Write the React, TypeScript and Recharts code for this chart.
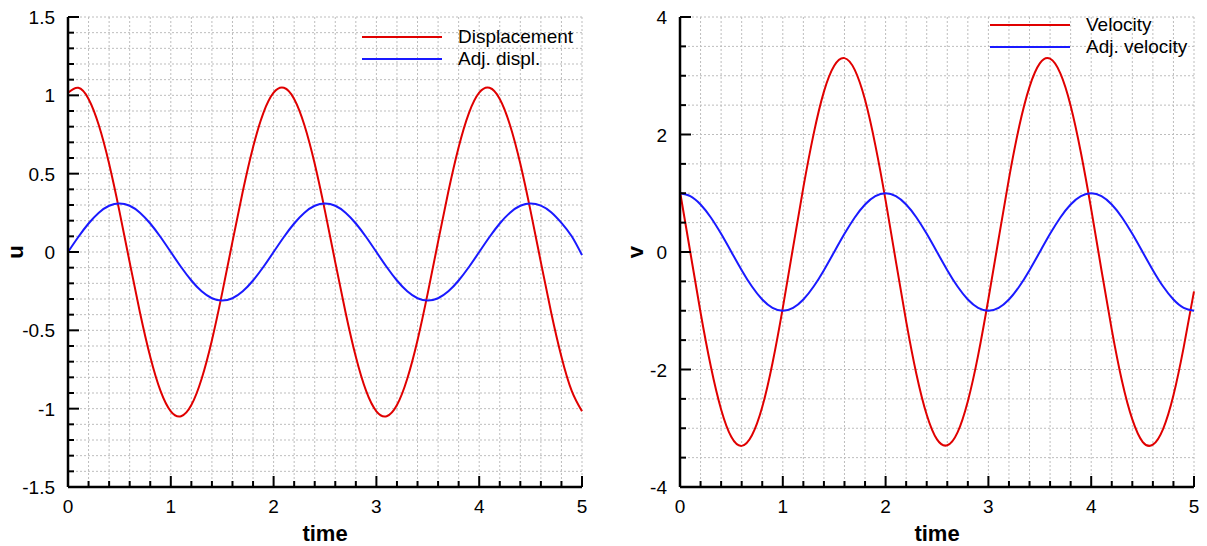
import React from "react";
import {
  LineChart,
  Line,
  XAxis,
  YAxis,
  CartesianGrid,
} from "recharts";

const time = [
  0, 0.1, 0.2, 0.3, 0.4, 0.5, 0.6, 0.7, 0.8, 0.9,
  1, 1.1, 1.2, 1.3, 1.4, 1.5, 1.6, 1.7, 1.8, 1.9,
  2, 2.1, 2.2, 2.3, 2.4, 2.5, 2.6, 2.7, 2.8, 2.9,
  3, 3.1, 3.2, 3.3, 3.4, 3.5, 3.6, 3.7, 3.8, 3.9,
  4, 4.1, 4.2, 4.3, 4.4, 4.5, 4.6, 4.7, 4.8, 4.9,
  5,
];

const displacement = [
  1.017, 1.048, 0.977, 0.809, 0.563, 0.261, -0.066, -0.386, -0.669, -0.887,
  -1.017, -1.048, -0.977, -0.809, -0.563, -0.261, 0.066, 0.386, 0.669, 0.887,
  1.017, 1.048, 0.977, 0.809, 0.563, 0.261, -0.066, -0.386, -0.669, -0.887,
  -1.017, -1.048, -0.977, -0.809, -0.563, -0.261, 0.066, 0.386, 0.669, 0.887,
  1.017, 1.048, 0.977, 0.809, 0.563, 0.261, -0.066, -0.386, -0.669, -0.887,
  -1.017,
];

const adjDispl = [
  0, 0.096, 0.182, 0.251, 0.295, 0.31, 0.295, 0.251, 0.182, 0.096,
  0, -0.096, -0.182, -0.251, -0.295, -0.31, -0.295, -0.251, -0.182, -0.096,
  0, 0.096, 0.182, 0.251, 0.295, 0.31, 0.295, 0.251, 0.182, 0.096,
  0, -0.096, -0.182, -0.251, -0.295, -0.31, -0.295, -0.251, -0.182, -0.096,
  0, 0.096, 0.182, 0.251, 0.295, 0.31, 0.296, 0.254, 0.186, 0.1,
  -0.02,
];

const velocity = [
  1.03, 0, -1.03, -1.95, -2.68, -3.15, -3.3, -3.12, -2.64, -1.89,
  -0.95, 0.08, 1.1, 2.01, 2.73, 3.17, 3.3, 3.1, 2.59, 1.82,
  0.88, -0.16, -1.18, -2.08, -2.77, -3.19, -3.29, -3.07, -2.54, -1.76,
  -0.8, 0.23, 1.25, 2.14, 2.81, 3.21, 3.29, 3.04, 2.49, 1.69,
  0.73, -0.31, -1.32, -2.2, -2.85, -3.23, -3.28, -3.01, -2.44, -1.62,
  -0.67,
];

const adjVelocity = [
  1, 0.951, 0.809, 0.588, 0.309, 0, -0.309, -0.588, -0.809, -0.951,
  -1, -0.951, -0.809, -0.588, -0.309, 0, 0.309, 0.588, 0.809, 0.951,
  1, 0.951, 0.809, 0.588, 0.309, 0, -0.309, -0.588, -0.809, -0.951,
  -1, -0.951, -0.809, -0.588, -0.309, 0, 0.309, 0.588, 0.809, 0.951,
  1, 0.951, 0.809, 0.588, 0.309, 0, -0.309, -0.588, -0.809, -0.951,
  -1,
];

// labelled (long) ticks
const timeMajor = [0, 1, 2, 3, 4, 5];
const uMajor = [-1.5, -1, -0.5, 0, 0.5, 1, 1.5];
const vMajor = [-4, -2, 0, 2, 4];

// unlabelled minor ticks
const steps = (from: number, to: number, step: number) => {
  const out: number[] = [];
  const n = Math.round((to - from) / step);
  for (let i = 0; i <= n; i++) out.push(Math.round((from + i * step) * 1000) / 1000);
  return out;
};
const timeTicks = steps(0, 5, 0.2);
const uTicks = steps(-1.5, 1.5, 0.1);
const vTicks = steps(-4, 4, 0.5);

const uData = time.map((t, i) => ({ t, d: displacement[i], a: adjDispl[i] }));
const vData = time.map((t, i) => ({ t, d: velocity[i], a: adjVelocity[i] }));

const RED = "#e00000";
const BLUE = "#1a1aff";
const FONT = "'Liberation Sans', Arial, sans-serif";

const isMajor = (v: number, majors: number[]) =>
  majors.some((m) => Math.abs(m - v) < 1e-6);

const makeXTick = (majors: number[]) => (props: any) => {
  const { x, y, payload } = props;
  const major = isMajor(payload.value, majors);
  return (
    <g>
      <line x1={x} y1={y} x2={x} y2={y - (major ? 11 : 6)} stroke="#000" strokeWidth={2} />
      {major && (
        <text x={x} y={y + 26} textAnchor="middle" fontSize={19} fill="#000" fontFamily={FONT}>
          {payload.value}
        </text>
      )}
    </g>
  );
};

const makeYTick = (majors: number[]) => (props: any) => {
  const { x, y, payload } = props;
  const major = isMajor(payload.value, majors);
  return (
    <g>
      <line x1={x} y1={y} x2={x + (major ? 11 : 6)} y2={y} stroke="#000" strokeWidth={2} />
      {major && (
        <text x={x - 13} y={y + 7} textAnchor="end" fontSize={19} fill="#000" fontFamily={FONT}>
          {payload.value}
        </text>
      )}
    </g>
  );
};

interface PanelProps {
  left: number;
  data: any[];
  names: [string, string];
  yDomain: [number, number];
  yTicks: number[];
  yMajor: number[];
  yLabel: string;
  yLabelX: number;
  legendX: number;
  legendY: number;
}

function Panel({ left, data, names, yDomain, yTicks, yMajor, yLabel, yLabelX, legendX, legendY }: PanelProps) {
  return (
    <div style={{ position: "absolute", left, top: 0, width: 600, height: 546 }}>
      <LineChart width={600} height={546} data={data} margin={{ top: 17, right: 18, left: 0, bottom: 0 }}>
        <CartesianGrid stroke="#bdbdbd" strokeDasharray="2 2" strokeWidth={1} />
        <XAxis
          dataKey="t"
          type="number"
          domain={[0, 5]}
          ticks={timeTicks}
          interval={0}
          height={59}
          tickSize={0}
          tickMargin={0}
          tickLine={false}
          axisLine={{ stroke: "#000", strokeWidth: 2.5 }}
          tick={makeXTick(timeMajor)}
          label={{
            value: "time",
            position: "insideBottom",
            offset: 5,
            fontSize: 22,
            fontWeight: "bold",
            fill: "#000",
            fontFamily: FONT,
          }}
        />
        <YAxis
          type="number"
          domain={yDomain}
          ticks={yTicks}
          interval={0}
          width={68}
          tickSize={0}
          tickMargin={0}
          tickLine={false}
          axisLine={{ stroke: "#000", strokeWidth: 2.5 }}
          tick={makeYTick(yMajor)}
          label={{
            content: (p: any) => {
              const vb = p.viewBox || { y: 17, height: 470 };
              const cy = vb.y + vb.height / 2;
              return (
                <text
                  x={yLabelX}
                  y={cy}
                  transform={`rotate(-90 ${yLabelX} ${cy})`}
                  textAnchor="middle"
                  dominantBaseline="central"
                  fontSize={22}
                  fontWeight="bold"
                  fill="#000"
                  fontFamily={FONT}
                >
                  {yLabel}
                </text>
              );
            },
          }}
        />
        <Line type="natural" dataKey="d" name={names[0]} stroke={RED} strokeWidth={2} dot={false} isAnimationActive={false} />
        <Line type="natural" dataKey="a" name={names[1]} stroke={BLUE} strokeWidth={2} dot={false} isAnimationActive={false} />
      </LineChart>
      <div style={{ position: "absolute", left: legendX, top: legendY - 11, fontFamily: FONT, fontSize: 19, color: "#000" }}>
        {names.map((n, i) => (
          <div key={n} style={{ display: "flex", alignItems: "center", height: 22 }}>
            <div style={{ width: 80, height: 2, background: i === 0 ? RED : BLUE, marginRight: 16 }} />
            <span style={{ lineHeight: "22px" }}>{n}</span>
          </div>
        ))}
      </div>
    </div>
  );
}

export default function App() {
  return (
    <div style={{ position: "absolute", left: 0, top: 0, width: 1207, height: 546, background: "#fff" }}>
      <Panel
        left={0}
        data={uData}
        names={["Displacement", "Adj. displ."]}
        yDomain={[-1.5, 1.5]}
        yTicks={uTicks}
        yMajor={uMajor}
        yLabel="u"
        yLabelX={15}
        legendX={362}
        legendY={37}
      />
      <Panel
        left={612}
        data={vData}
        names={["Velocity", "Adj. velocity"]}
        yDomain={[-4, 4]}
        yTicks={vTicks}
        yMajor={vMajor}
        yLabel="v"
        yLabelX={23}
        legendX={378}
        legendY={25}
      />
    </div>
  );
}
